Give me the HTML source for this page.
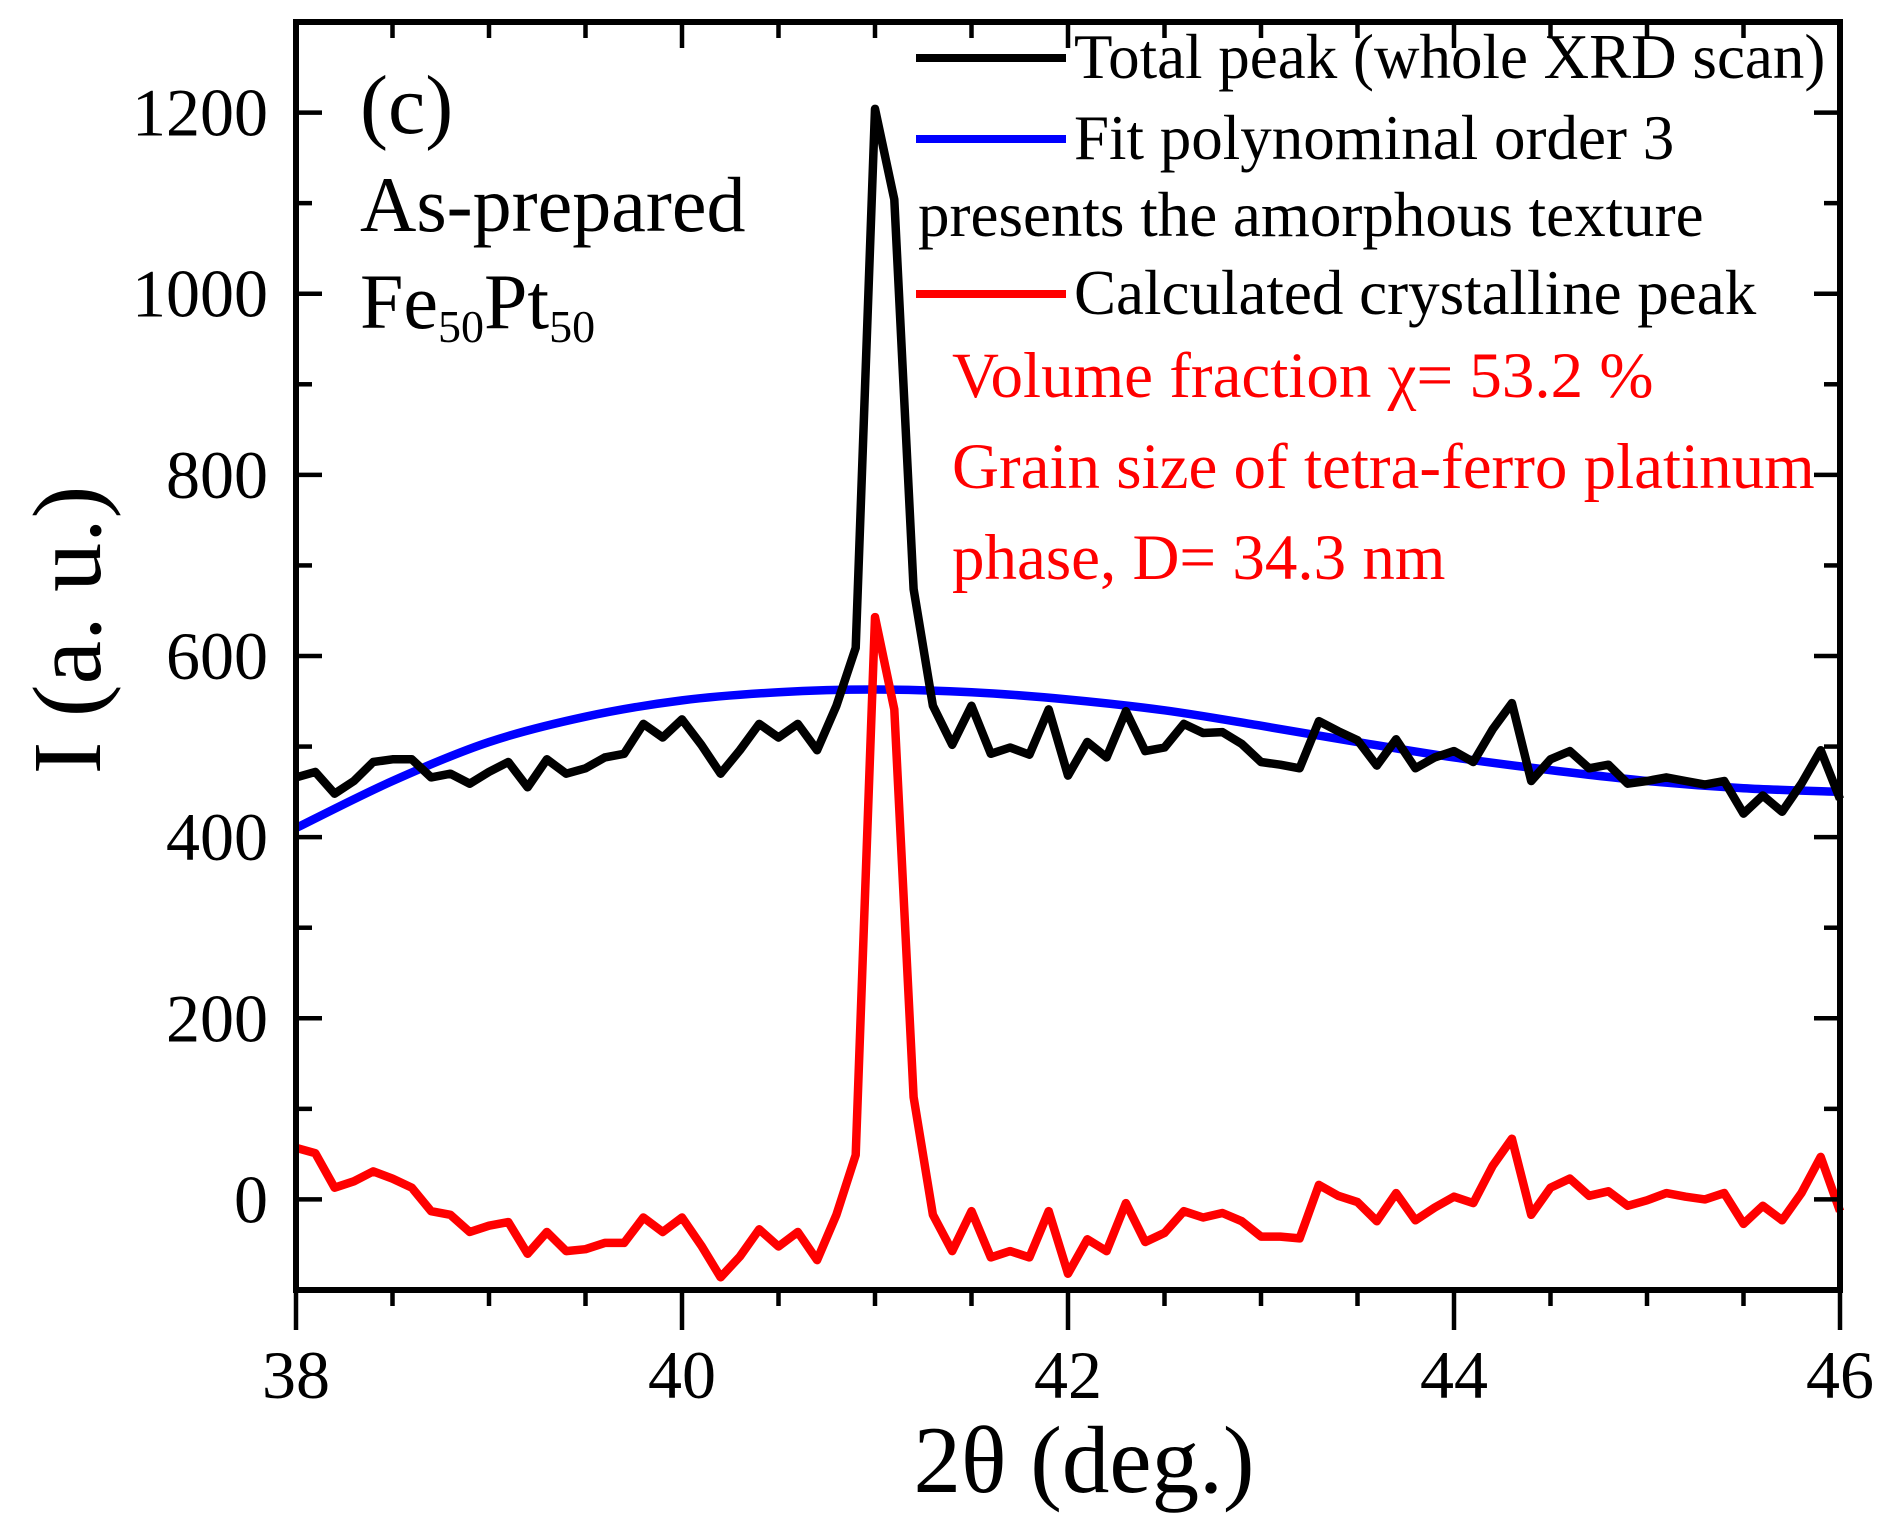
<!DOCTYPE html>
<html><head><meta charset="utf-8"><style>
html,body{margin:0;padding:0;background:#fff}
svg{display:block;font-family:"Liberation Serif",serif}
</style></head><body>
<svg id="chart" width="1889" height="1529" viewBox="0 0 1889 1529">
<g id="marks"></g>
<g id="axes"></g>
<text x="360" y="133" font-size="84">(c)</text>
<text x="360" y="231" font-size="78">As-prepared</text>
<text x="360" y="328" font-size="78">Fe<tspan font-size="46" dy="14">50</tspan><tspan dy="-14">Pt</tspan><tspan font-size="46" dy="14">50</tspan></text>
<g>
<line x1="916" y1="58" x2="1066" y2="58" stroke="#000" stroke-width="8"/>
<text x="1074" y="78" font-size="63">Total peak (whole XRD scan)</text>
<line x1="916" y1="139" x2="1066" y2="139" stroke="#0000ff" stroke-width="8"/>
<text x="1074" y="159" font-size="63">Fit polynominal order 3</text>
<text x="918" y="236" font-size="63">presents the amorphous texture</text>
<line x1="916" y1="294" x2="1066" y2="294" stroke="#ff0000" stroke-width="8"/>
<text x="1074" y="314" font-size="63">Calculated crystalline peak</text>
</g>
<text x="952" y="397" font-size="65" fill="#ff0000">Volume fraction χ= 53.2 %</text>
<text x="952" y="488" font-size="65" fill="#ff0000">Grain size of tetra-ferro platinum</text>
<text x="952" y="579" font-size="65" fill="#ff0000">phase, D= 34.3 nm</text>
<text x="1084" y="1492" font-size="95" text-anchor="middle">2θ (deg.)</text>
<text transform="translate(100,630) rotate(-90)" font-size="98" text-anchor="middle">I (a. u.)</text>
</svg>
<script>
const xStart = 38, xStep = 0.1;
const totalPeak = [466,472,448,462,483,486,486,466,470,459,472,483,455,486,470,476,488,492,525,510,530,502,470,496,525,510,525,496,545,609,1204,1104,674,545,502,545,492,499,491,541,468,505,488,539,495,499,525,515,516,503,483,480,476,528,517,507,479,508,476,488,495,483,519,548,462,486,495,476,480,459,462,466,462,458,462,426,446,428,459,496,442];
const crystalPeak = [57,51,13,20,31,23,13,-13,-17,-36,-29,-25,-60,-36,-57,-55,-48,-48,-20,-36,-20,-51,-86,-63,-33,-52,-36,-67,-17,49,643,541,113,-17,-57,-13,-64,-57,-64,-13,-82,-44,-57,-4,-47,-37,-13,-20,-15,-24,-41,-41,-43,16,4,-3,-24,7,-23,-9,3,-4,37,67,-17,13,23,4,9,-7,-1,7,3,0,7,-27,-7,-23,7,47,-13];
const fitX = [38,38.5,39,39.5,40,40.5,41,41.5,42,42.5,43,43.5,44,44.5,45,45.5,46];
const fitY = [410,462,505,533,551,560,563,560,552,540,523,505,488,474,462,454,450];
const xTicks = [38,40,42,44,46];
const yTicks = [0,200,400,600,800,1000,1200];

const L=296,R=1840,T=22,B=1290;
const xMin=38,xMax=46,yMin=-100,yMax=1300;
const sx=v=>L+(v-xMin)/(xMax-xMin)*(R-L);
const sy=v=>B-(v-yMin)/(yMax-yMin)*(B-T);
const NS="http://www.w3.org/2000/svg";
const marks=document.getElementById('marks'), axes=document.getElementById('axes');
function mk(tag,parent,attrs){const e=document.createElementNS(NS,tag);for(const k in attrs)e.setAttribute(k,attrs[k]);parent.appendChild(e);return e;}

function series(xs,ys,color,name){
  const d=ys.map((y,i)=>(i?'L':'M')+sx(xs[i]).toFixed(1)+','+sy(y).toFixed(1)).join(' ');
  const p=mk('path',marks,{d:d,fill:'none',stroke:color,'stroke-width':8.5,'stroke-linejoin':'round'});
  
  
}
(function(){
  let d='M'+sx(fitX[0])+','+sy(fitY[0]);
  for(let i=0;i<fitX.length-1;i++){
    const p0=[sx(fitX[Math.max(i-1,0)]),sy(fitY[Math.max(i-1,0)])],p1=[sx(fitX[i]),sy(fitY[i])],p2=[sx(fitX[i+1]),sy(fitY[i+1])],p3=[sx(fitX[Math.min(i+2,fitX.length-1)]),sy(fitY[Math.min(i+2,fitX.length-1)])];
    d+=` C${p1[0]+(p2[0]-p0[0])/6},${p1[1]+(p2[1]-p0[1])/6} ${p2[0]-(p3[0]-p1[0])/6},${p2[1]-(p3[1]-p1[1])/6} ${p2[0]},${p2[1]}`;
  }
  const p=mk('path',marks,{d:d,fill:'none',stroke:'#0000ff','stroke-width':8.5});
  
  
})();
const xs=totalPeak.map((_,i)=>xStart+i*xStep);
series(xs,totalPeak,'#000','total-peak-line');
series(xs,crystalPeak,'#ff0000','crystalline-peak-line');

const fr=mk('rect',axes,{x:L,y:T,width:R-L,height:B-T,fill:'none',stroke:'#000','stroke-width':6});


for(let v=38;v<=46.001;v+=0.5){
  const major=Math.abs(v-Math.round(v/2)*2)<1e-6;
  const len=major?26:16;
  mk('line',axes,{x1:sx(v),y1:B,x2:sx(v),y2:B+len+(major?14:0),stroke:'#000','stroke-width':4.5});
  mk('line',axes,{x1:sx(v),y1:T,x2:sx(v),y2:T+len,stroke:'#000','stroke-width':4.5});
}
for(let v=-100;v<=1300;v+=100){
  const major=v%200===0;
  const len=major?26:16;
  mk('line',axes,{x1:L,y1:sy(v),x2:L+len,y2:sy(v),stroke:'#000','stroke-width':4.5});
  mk('line',axes,{x1:R,y1:sy(v),x2:R-len,y2:sy(v),stroke:'#000','stroke-width':4.5});
}
xTicks.forEach(v=>{
  const t=mk('text',axes,{x:sx(v),y:1398,'font-size':68,'text-anchor':'middle'});
  t.textContent=v;
  
  
});
yTicks.forEach(v=>{
  const t=mk('text',axes,{x:268,y:sy(v)+23,'font-size':68,'text-anchor':'end'});
  t.textContent=v;
  
  
});
</script>
</body></html>
